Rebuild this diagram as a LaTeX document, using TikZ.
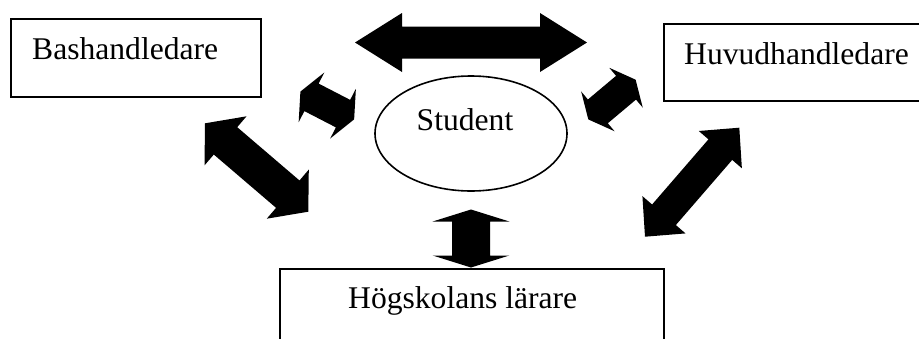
\documentclass[tikz,border=0pt]{standalone}
\usepackage{fontspec}
\setmainfont{Liberation Serif}
\usetikzlibrary{calc,shapes.geometric}

% Double-headed block arrow between two named points.
% #1 start tip, #2 end tip, #3 shaft half width, #4 head half width, #5 head length (pt)
\newcommand\blockarrow[5]{%
  \fill[arrowfill] let \p1=($(#2)-(#1)$), \n1={atan2(\y1,\x1)}, \n2={veclen(\x1,\y1)} in
    ([shift={(#1)},rotate=\n1]0pt,0pt)
    -- ([shift={(#1)},rotate=\n1]#5pt,#4pt)
    -- ([shift={(#1)},rotate=\n1]#5pt,#3pt)
    -- ([shift={(#1)},rotate=\n1]{\n2-#5pt},#3pt)
    -- ([shift={(#1)},rotate=\n1]{\n2-#5pt},#4pt)
    -- ([shift={(#1)},rotate=\n1]{\n2},0pt)
    -- ([shift={(#1)},rotate=\n1]{\n2-#5pt},-#4pt)
    -- ([shift={(#1)},rotate=\n1]{\n2-#5pt},-#3pt)
    -- ([shift={(#1)},rotate=\n1]#5pt,-#3pt)
    -- ([shift={(#1)},rotate=\n1]#5pt,-#4pt)
    -- cycle;%
}

\begin{document}
\begin{tikzpicture}[x=1pt,y=-1pt,
  box/.style={draw=black, line width=2pt, inner sep=0pt, anchor=north west},
  lbl/.style={font=\fontsize{31.6}{38}\selectfont, inner sep=0pt, text=black},
  arrowfill/.style={fill=black}]
\useasboundingbox (0,0) rectangle (919,338);
\clip (0,0) rectangle (919,338);

% boxes and the student ellipse
\node[box, minimum width=250pt, minimum height=78pt] (bas) at (10,18) {};
\node[box, minimum width=262pt, minimum height=77pt] (huv) at (663,23) {};
\node[box, minimum width=384pt, minimum height=100pt] (hog) at (279,268) {};
\node[draw=black, ellipse, line width=1.6pt, minimum width=192pt, minimum height=115pt, inner sep=0pt] (stu) at (471,133.5) {};

% labels
\node[lbl, anchor=base west] (bast) at (32,59) {Bashandledare};
\node[lbl, anchor=base west] (huvt) at (684,64) {Huvudhandledare};
\node[lbl, anchor=base west] (hogt) at (348,308) {Högskolans lärare};
\node[lbl, anchor=base] (stut) at (465,130) {Student};

% arrow end points
\coordinate (t1a) at (355,42.5);   \coordinate (t1b) at (587,42.5);
\coordinate (t2a) at (205,123.3);  \coordinate (t2b) at (308.3,211.7);
\coordinate (t3a) at (739.3,127.7); \coordinate (t3b) at (645,236.7);
\coordinate (t4a) at (471,209.5);  \coordinate (t4b) at (471,267.5);
\coordinate (t5a) at (300.4,91.6); \coordinate (t5b) at (354.2,119.4);
\coordinate (t6a) at (588.3,119.4); \coordinate (t6b) at (635.7,79.6);

% block arrows
\blockarrow{t1a}{t1b}{16}{29.5}{47}
\blockarrow{t2a}{t2b}{18}{32.3}{27}
\blockarrow{t3a}{t3b}{15.7}{28.5}{29}
\blockarrow{t4a}{t4b}{19}{38.3}{12}
\blockarrow{t5a}{t5b}{15.5}{28}{12.5}
\blockarrow{t6a}{t6b}{15.5}{26}{12.5}
\end{tikzpicture}
\end{document}
